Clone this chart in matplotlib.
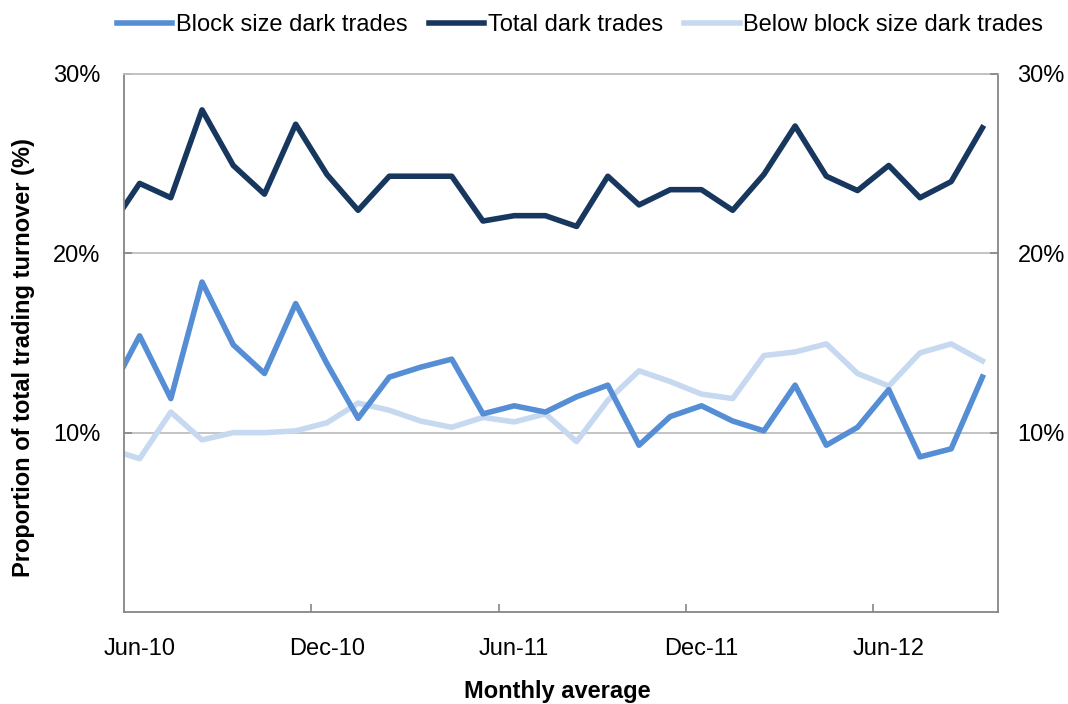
import matplotlib.pyplot as plt
import numpy as np

plt.rcParams['font.family'] = ['Liberation Sans', 'DejaVu Sans']

# monthly averages, % of total trading turnover (May-10 is cut off by the axis edge)
months = ['May-10', 'Jun-10', 'Jul-10', 'Aug-10', 'Sep-10', 'Oct-10', 'Nov-10', 'Dec-10',
          'Jan-11', 'Feb-11', 'Mar-11', 'Apr-11', 'May-11', 'Jun-11', 'Jul-11', 'Aug-11',
          'Sep-11', 'Oct-11', 'Nov-11', 'Dec-11', 'Jan-12', 'Feb-12', 'Mar-12', 'Apr-12',
          'May-12', 'Jun-12', 'Jul-12', 'Aug-12', 'Sep-12']
block = [12.1, 15.4, 11.9, 18.4, 14.9, 13.3, 17.2, 13.85, 10.8, 13.1, 13.65, 14.1, 11.05, 11.5,
         11.15, 12.0, 12.65, 9.3, 10.9, 11.5, 10.65, 10.1, 12.65, 9.3, 10.3, 12.4, 8.65, 9.1, 13.1]
total = [21.3, 23.9, 23.1, 28.0, 24.9, 23.3, 27.2, 24.4, 22.4, 24.3, 24.3, 24.3, 21.8, 22.1,
         22.1, 21.5, 24.3, 22.7, 23.55, 23.55, 22.4, 24.4, 27.1, 24.3, 23.5, 24.9, 23.1, 24.0, 27.0]
below = [9.1, 8.55, 11.15, 9.6, 10.0, 10.0, 10.1, 10.55, 11.65, 11.25, 10.65, 10.3, 10.85, 10.6,
         11.05, 9.5, 11.8, 13.45, 12.85, 12.15, 11.9, 14.3, 14.5, 14.95, 13.3, 12.6, 14.45, 14.95, 14.0]

tick_labels = ['Jun-10', 'Dec-10', 'Jun-11', 'Dec-11', 'Jun-12']

x = np.arange(len(months)) - 0.5   # month centres, Jun-10 at 0.5

fig = plt.figure(figsize=(10.68, 7.04), dpi=100)
ax = fig.add_axes([124/1068, 1 - 612/704, 874/1068, 538/704])

lw = 4.0
l3, = ax.plot(x, below, color='#C6D9F1', lw=lw, label='Below block size dark trades')
l1, = ax.plot(x, block, color='#558ED5', lw=lw, label='Block size dark trades')
l2, = ax.plot(x, total, color='#17375E', lw=lw, label='Total dark trades')

ax.set_xlim(0, 28.0)
ax.set_ylim(0, 30)
ax.set_yticks([10, 20, 30])
ax.set_yticklabels(['10%', '20%', '30%'])
ax.yaxis.grid(True, color='#BFBFBF', lw=1.3)
ax.set_axisbelow(True)

ax.set_xticks([6, 12, 18, 24])
ax.set_xticklabels([])
ax.set_xticks([0.5, 6.5, 12.5, 18.5, 24.5], minor=True)
ax.set_xticklabels(tick_labels, minor=True)
ax.tick_params(axis='x', which='major', direction='in', length=6, width=1.2, color='#868686')
ax.tick_params(axis='x', which='minor', length=0, pad=19, labelsize=17)
ax.tick_params(axis='y', direction='in', length=6, width=1.2, color='#868686', labelsize=17, pad=17)

for s in ['left', 'right', 'bottom']:
    ax.spines[s].set_color('#868686')
    ax.spines[s].set_linewidth(1.3)
ax.spines['top'].set_color('#BFBFBF')
ax.spines['top'].set_linewidth(1.3)

ax2 = ax.twinx()
ax2.set_ylim(0, 30)
ax2.set_yticks([10, 20, 30])
ax2.set_yticklabels(['10%', '20%', '30%'])
ax2.tick_params(axis='y', direction='in', length=6, width=1.2, color='#868686', labelsize=17, pad=14)
for s in ax2.spines.values():
    s.set_visible(False)

fig.text(24/1068, 1 - 358/704, 'Proportion of total trading turnover (%)', rotation=90,
         ha='center', va='center', fontsize=17, fontweight='bold')
fig.text(557/1068, 1 - 698/704, 'Monthly average', ha='center', va='baseline',
         fontsize=17, fontweight='bold')

fig.legend(handles=[l1, l2, l3], loc='center', bbox_to_anchor=(580/1068, 1 - 25/704), ncol=3,
           frameon=False, fontsize=17, handlelength=2.35, handletextpad=0.15, columnspacing=0.9)

fig.savefig('out.png', dpi=100)
